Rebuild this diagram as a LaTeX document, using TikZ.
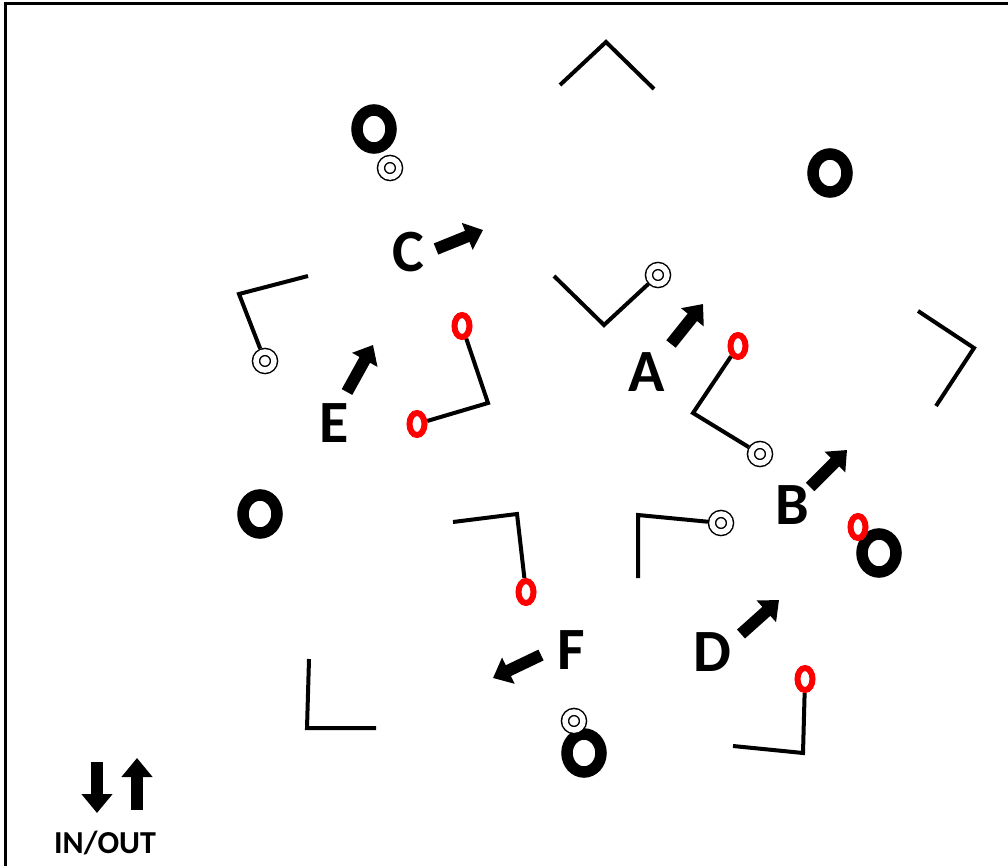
\documentclass[tikz,border=0pt]{standalone}
\usepackage{fontspec}
\setmainfont{Carlito}
\usetikzlibrary{arrows.meta,shapes.geometric}
\tikzset{
  wire/.style={
    line width=4pt
  },
  bigring/.style={
    ellipse,
    draw,
    fill=white,
    line width=11.5pt,
    minimum width=34pt,
    minimum height=38pt,
    inner sep=0pt
  },
  redring/.style={
    ellipse,
    draw=red,
    fill=white,
    line width=6pt,
    minimum width=15pt,
    minimum height=22pt,
    inner sep=0pt
  },
  target/.style={
    circle,
    draw,
    fill=white,
    double,
    double distance=5.5pt,
    line width=1.5pt,
    minimum size=18pt,
    inner sep=0pt,
    outer sep=4.2pt
  },
  letter/.style={
    font=\fontsize{60}{62}\selectfont\bfseries,
    inner sep=0pt
  },
  move/.style={
    line width=12pt,
    -{Triangle[length=17pt,width=28pt]}
  },
  legend/.style={
    line width=11.5pt,
    -{Triangle[length=19pt,width=30pt]}
  }
}

\begin{document}
\begin{tikzpicture}[x=1pt,y=-1pt]
  \useasboundingbox (0,0) rectangle (1008,866);
  \draw[line width=3pt] (5,866) -- (5,4) -- (1008,4);

  \node[bigring] (oTopLeft) at (374,129) {};
  \node[bigring] (oTopRight) at (830,173) {};
  \node[bigring] (oLeft) at (260,514) {};
  \node[bigring] (oRight) at (879,553) {};
  \node[bigring] (oBottom) at (584,753) {};

  \node[target] (tTopLeft) at (390,168) {};
  \node[target] (tLeft) at (265,361) {};
  \node[target] (tCenter) at (658,275) {};
  \node[target] (tRight) at (760,454) {};
  \node[target] (tMiddle) at (721,523) {};
  \node[target] (tBottom) at (574,721) {};

  \node[redring] (rEtop) at (462,326) {};
  \node[redring] (rElow) at (417,424) {};
  \node[redring] (rA) at (738,346) {};
  \node[redring] (rB) at (858,527) {};
  \node[redring] (rF) at (526,592) {};
  \node[redring] (rD) at (805,679) {};

  \node[letter] (labA) at (647,372) {A};
  \node[letter] (labB) at (792,505) {B};
  \node[letter] (labC) at (408,252) {C};
  \node[letter] (labD) at (712,652) {D};
  \node[letter] (labE) at (334,423) {E};
  \node[letter] (labF) at (571,650) {F};
  \node[font=\fontsize{32}{34}\selectfont\bfseries, inner sep=0pt] (inout) at (105,843) {IN/OUT};

  \coordinate (roofL) at (560,85);
  \coordinate (roofTop) at (606,42);
  \coordinate (roofR) at (654,89);
  \coordinate (hookNWend) at (308,276);
  \coordinate (hookNWcorner) at (239,294);
  \coordinate (hookEcorner) at (488,403);
  \coordinate (vNWend) at (554,276);
  \coordinate (vNWcorner) at (604,325);
  \coordinate (bracketTop) at (918,311);
  \coordinate (bracketCorner) at (974,348);
  \coordinate (bracketLow) at (936,406);
  \coordinate (hookAcorner) at (693,413);
  \coordinate (hookFend) at (453,522);
  \coordinate (hookFcorner) at (517,514);
  \coordinate (postLow) at (638,578);
  \coordinate (postCorner) at (638,515);
  \coordinate (ellTop) at (309,659);
  \coordinate (ellCorner) at (307,728);
  \coordinate (ellEnd) at (376,728);
  \coordinate (hookDcorner) at (803,753);
  \coordinate (hookDend) at (733,746);

  \draw[wire] (roofL) -- (roofTop) -- (roofR);
  \draw[wire] (hookNWend) -- (hookNWcorner) -- (tLeft);
  \draw[wire] (rEtop) -- (hookEcorner) -- (rElow);
  \draw[wire] (vNWend) -- (vNWcorner) -- (tCenter);
  \draw[wire] (bracketTop) -- (bracketCorner) -- (bracketLow);
  \draw[wire] (rA) -- (hookAcorner) -- (tRight);
  \draw[wire] (hookFend) -- (hookFcorner) -- (rF);
  \draw[wire] (postLow) -- (postCorner) -- (tMiddle);
  \draw[wire] (ellTop) -- (ellCorner) -- (ellEnd);
  \draw[wire] (rD) -- (hookDcorner) -- (hookDend);

  \coordinate (cTail) at (436,249);
  \coordinate (cHead) at (483,230);
  \coordinate (aTail) at (671,344);
  \coordinate (aHead) at (703,304);
  \coordinate (eTail) at (347,392);
  \coordinate (eHead) at (373,345);
  \coordinate (bTail) at (810,487);
  \coordinate (bHead) at (847,450);
  \coordinate (dTail) at (741,634);
  \coordinate (dHead) at (779,600);
  \coordinate (fTail) at (541,655);
  \coordinate (fHead) at (493,678);
  \coordinate (inTail) at (97,762);
  \coordinate (inHead) at (97,813);
  \coordinate (outTail) at (137,810);
  \coordinate (outHead) at (137,758);

  \draw[move] (cTail) -- (cHead);
  \draw[move] (aTail) -- (aHead);
  \draw[move] (eTail) -- (eHead);
  \draw[move] (bTail) -- (bHead);
  \draw[move] (dTail) -- (dHead);
  \draw[move] (fTail) -- (fHead);
  \draw[legend] (inTail) -- (inHead);
  \draw[legend] (outTail) -- (outHead);
\end{tikzpicture}
\end{document}
